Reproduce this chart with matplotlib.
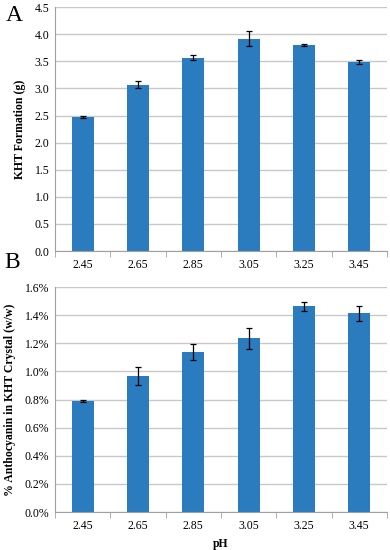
import matplotlib
matplotlib.use("Agg")
import matplotlib.pyplot as plt
from matplotlib.ticker import FuncFormatter, FixedLocator
import numpy as np

ph = ["2.45", "2.65", "2.85", "3.05", "3.25", "3.45"]
kht = [2.47, 3.07, 3.57, 3.92, 3.80, 3.49]
kht_err = [0.02, 0.06, 0.05, 0.14, 0.02, 0.03]
anth = [0.79, 0.967, 1.14, 1.235, 1.465, 1.413]
anth_err = [0.01, 0.065, 0.057, 0.073, 0.032, 0.055]

plt.rcParams['font.family'] = ['Liberation Serif', 'DejaVu Serif']
bar_color = '#2a7cbf'
grid_color = '#c8c8c8'

fig = plt.figure(figsize=(3.9, 5.5), dpi=100)
ax1 = fig.add_axes([0.141, 0.5436, 0.851, 0.4434])
ax2 = fig.add_axes([0.141, 0.069, 0.851, 0.409])

x = np.arange(len(ph))

def style(ax, ymax, step):
    ax.set_xlim(-0.5, len(ph) - 0.5)
    ax.set_ylim(0, ymax)
    ax.set_yticks(np.arange(0, ymax + step / 2, step))
    ax.yaxis.grid(True, color=grid_color, linewidth=1.0)
    ax.set_axisbelow(True)
    for s in ['top', 'right']:
        ax.spines[s].set_visible(False)
    ax.spines['left'].set_color('#a0a0a0')
    ax.spines['bottom'].set_color('#a0a0a0')
    ax.tick_params(axis='y', length=0, labelsize=8.5, pad=4)
    ax.set_xticks(x)
    ax.set_xticklabels(ph)
    ax.tick_params(axis='x', which='major', length=0, labelsize=8.5, pad=6)
    ax.xaxis.set_minor_locator(FixedLocator(np.arange(-0.5, len(ph), 1.0)))
    ax.tick_params(axis='x', which='minor', length=4, color='#a0a0a0', direction='out')

ax1.bar(x, kht, width=0.4, color=bar_color, zorder=2)
ax1.errorbar(x, kht, yerr=kht_err, fmt='none', ecolor='black', elinewidth=0.9, capsize=2, capthick=0.9, zorder=3)
style(ax1, 4.5, 0.5)
ax1.yaxis.set_major_formatter(FuncFormatter(lambda v, p: f"{v:.1f}"))
ax1.set_ylabel("KHT Formation (g)", fontweight='bold', fontsize=8.5, labelpad=6)

ax2.bar(x, anth, width=0.4, color=bar_color, zorder=2)
ax2.errorbar(x, anth, yerr=anth_err, fmt='none', ecolor='black', elinewidth=0.9, capsize=2, capthick=0.9, zorder=3)
style(ax2, 1.6, 0.2)
ax2.yaxis.set_major_formatter(FuncFormatter(lambda v, p: f"{v:.1f}%"))
ax2.set_ylabel("% Anthocyanin in KHT Crystal (w/w)", fontweight='bold', fontsize=8.5, labelpad=6)
ax2.set_xlabel("pH", fontweight='bold', fontsize=8.5, labelpad=4)

fig.text(0.015, 0.972, "A", fontsize=17, va='center', ha='left')
fig.text(0.012, 0.522, "B", fontsize=17, va='center', ha='left')

fig.savefig("out.png", dpi=100)
